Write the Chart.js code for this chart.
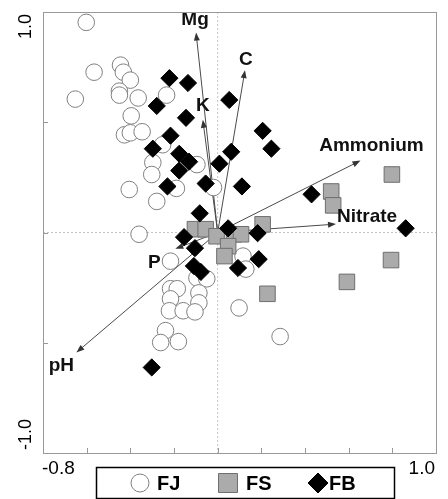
<!DOCTYPE html>
<html>
<head>
<meta charset="utf-8">
<script src="https://cdn.jsdelivr.net/npm/chart.js@4.4.1/dist/chart.umd.min.js"></script>
<style>
  html, body { margin: 0; padding: 0; background: #fff; }
  #wrap { position: relative; width: 448px; height: 499px; }
</style>
</head>
<body>
<div id="wrap"><canvas id="chart"></canvas></div>
<script>
// --- site scores (axis 1 / axis 2) ---
const fjX = [-0.602, -0.566, -0.445, -0.432, -0.400, -0.652, -0.450, -0.450, -0.364, -0.234,
  -0.396, -0.427, -0.400, -0.346, -0.252, -0.297, -0.302, -0.095, -0.189, -0.405,
  -0.279, -0.019, -0.360, -0.216, 0.116, 0.129, -0.095, -0.050, -0.216, -0.185,
  -0.216, -0.086, -0.086, -0.221, -0.158, -0.104, -0.239, -0.261, -0.180, 0.098, 0.286];
const fjY = [0.953, 0.727, 0.759, 0.727, 0.691, 0.605, 0.641, 0.623, 0.610, 0.623,
  0.529, 0.443, 0.452, 0.457, 0.398, 0.317, 0.263, 0.308, 0.200, 0.195,
  0.141, 0.204, -0.008, -0.130, -0.107, -0.166, -0.206, -0.210, -0.255, -0.255,
  -0.301, -0.274, -0.319, -0.355, -0.355, -0.360, -0.445, -0.499, -0.495, -0.342, -0.472];

const fsX = [-0.104, -0.055, -0.005, 0.075, 0.107, 0.048, 0.031, 0.206, 0.520, 0.529, 0.798, 0.794, 0.592, 0.228];
const fsY = [0.015, 0.015, -0.017, -0.008, -0.008, -0.062, -0.107, 0.037, 0.186, 0.123, 0.263, -0.125, -0.224, -0.278];

const fbX = [-0.221, -0.136, -0.279, -0.145, 0.053, -0.216, -0.297, -0.176, -0.131, -0.176,
  -0.230, -0.055, 0.008, 0.062, 0.111, 0.206, 0.246, 0.430, -0.082, -0.154,
  -0.104, 0.048, 0.183, 0.188, 0.093, -0.109, -0.077, 0.861, -0.302];
const fbY = [0.700, 0.678, 0.574, 0.520, 0.601, 0.439, 0.380, 0.357, 0.321, 0.281,
  0.209, 0.222, 0.312, 0.366, 0.209, 0.461, 0.380, 0.173, 0.087, -0.021,
  -0.071, 0.019, -0.003, -0.121, -0.161, -0.152, -0.179, 0.019, -0.612];

// --- environmental vectors ---
const vecNames = ['Mg', 'K', 'C', 'Ammonium', 'Nitrate', 'pH', 'P'];
const vecX = [-0.099, -0.068, 0.125, 0.654, 0.542, -0.647, -0.194];
const vecY = [0.907, 0.511, 0.736, 0.326, 0.038, -0.544, -0.074];

// --- axes ---
const xTicks = [-0.8, -0.6, -0.4, -0.2, 0, 0.2, 0.4, 0.6, 0.8, 1.0];
const yTicks = [-1.0, -0.5, 0, 0.5, 1.0];
const xTickLabels = ['-0.8', '1.0'];
const yTickLabels = ['-1.0', '1.0'];
const groupNames = ['FJ', 'FS', 'FB'];

const pts = (xs, ys) => xs.map((v, i) => ({ x: v, y: ys[i] }));

// label offsets from the arrow tip, px
const labelOffset = {
  Mg: [-1, -13], K: [0, -14], C: [1, -10], Ammonium: [11, -15],
  Nitrate: [31, -7], pH: [-15, 13], P: [-21, 14],
};

const biplot = {
  id: 'biplot',
  beforeDatasetsDraw(chart) {
    const { ctx, chartArea: a, scales: { x, y } } = chart;
    const x0 = x.getPixelForValue(0), y0 = y.getPixelForValue(0);
    ctx.save();
    // dotted zero lines
    ctx.strokeStyle = '#c4c4c4';
    ctx.lineWidth = 1;
    ctx.setLineDash([2, 2]);
    ctx.beginPath();
    ctx.moveTo(x0, a.top); ctx.lineTo(x0, a.bottom);
    ctx.moveTo(a.left, y0); ctx.lineTo(a.right, y0);
    ctx.stroke();
    ctx.setLineDash([]);
    // arrows
    ctx.strokeStyle = '#4a4a4a';
    ctx.fillStyle = '#333';
    vecNames.forEach((n, i) => {
      const tx = x.getPixelForValue(vecX[i]), ty = y.getPixelForValue(vecY[i]);
      const ang = Math.atan2(ty - y0, tx - x0);
      ctx.beginPath();
      ctx.moveTo(x0, y0);
      ctx.lineTo(tx - 6 * Math.cos(ang), ty - 6 * Math.sin(ang));
      ctx.stroke();
      ctx.beginPath();
      ctx.moveTo(tx, ty);
      ctx.lineTo(tx - 8 * Math.cos(ang) + 3 * Math.sin(ang), ty - 8 * Math.sin(ang) - 3 * Math.cos(ang));
      ctx.lineTo(tx - 8 * Math.cos(ang) - 3 * Math.sin(ang), ty - 8 * Math.sin(ang) + 3 * Math.cos(ang));
      ctx.closePath();
      ctx.fill();
    });
    ctx.restore();
  },
  afterDatasetsDraw(chart) {
    const { ctx, chartArea: a, scales: { x, y } } = chart;
    ctx.save();
    // vector labels
    ctx.font = 'bold 19px "Liberation Sans", Arial, sans-serif';
    ctx.fillStyle = '#111';
    ctx.textAlign = 'center';
    ctx.textBaseline = 'middle';
    vecNames.forEach((n, i) => {
      const o = labelOffset[n];
      ctx.fillText(n, x.getPixelForValue(vecX[i]) + o[0], y.getPixelForValue(vecY[i]) + o[1]);
    });
    // frame
    ctx.strokeStyle = '#999';
    ctx.lineWidth = 1;
    ctx.strokeRect(Math.round(a.left) + 0.5, Math.round(a.top) + 0.5,
      Math.round(a.right - a.left), Math.round(a.bottom - a.top));
    // inward ticks
    ctx.beginPath();
    xTicks.forEach(v => {
      const px = Math.round(x.getPixelForValue(v)) + 0.5;
      ctx.moveTo(px, a.bottom); ctx.lineTo(px, a.bottom - 5);
    });
    yTicks.forEach(v => {
      const py = Math.round(y.getPixelForValue(v)) + 0.5;
      ctx.moveTo(a.left, py); ctx.lineTo(a.left + 5, py);
    });
    ctx.stroke();
    // tick labels (only the ends)
    ctx.fillStyle = '#000';
    ctx.font = '19px "Liberation Sans", Arial, sans-serif';
    ctx.textBaseline = 'middle';
    ctx.textAlign = 'left';
    ctx.fillText(xTickLabels[0], x.getPixelForValue(xTicks[0]) - 1, a.bottom + 16);
    ctx.textAlign = 'right';
    ctx.fillText(xTickLabels[1], x.getPixelForValue(xTicks[xTicks.length - 1]) - 1, a.bottom + 16);
    ctx.font = '18px "Liberation Sans", Arial, sans-serif';
    ctx.save();
    ctx.translate(a.left - 17, y.getPixelForValue(yTicks[yTicks.length - 1]) + 2);
    ctx.rotate(-Math.PI / 2);
    ctx.textAlign = 'right';
    ctx.fillText(yTickLabels[1], 0, 0);
    ctx.restore();
    ctx.save();
    ctx.translate(a.left - 17, y.getPixelForValue(yTicks[0]) - 3);
    ctx.rotate(-Math.PI / 2);
    ctx.textAlign = 'left';
    ctx.fillText(yTickLabels[0], 0, 0);
    ctx.restore();
    ctx.restore();
  },
  afterDraw(chart) {
    const { ctx } = chart;
    ctx.save();
    ctx.strokeStyle = '#000';
    ctx.lineWidth = 1.5;
    ctx.strokeRect(96.5, 467.5, 298, 31);
    const cy = 483;
    const marks = [
      { cx: 140, tx: 157, r: 9 },
      { cx: 228, tx: 246, r: 13.4 },
      { cx: 318, tx: 329, r: 10 },
    ];
    ctx.font = 'bold 20px "Liberation Sans", Arial, sans-serif';
    ctx.textBaseline = 'middle';
    ctx.textAlign = 'left';
    chart.data.datasets.forEach((ds, i) => {
      const m = marks[i];
      ctx.fillStyle = ds.backgroundColor;
      ctx.strokeStyle = ds.borderColor;
      ctx.lineWidth = ds.borderWidth;
      Chart.helpers.drawPoint(ctx, { pointStyle: ds.pointStyle, radius: m.r, rotation: 0, borderWidth: ds.borderWidth }, m.cx, cy);
      ctx.fillStyle = '#000';
      ctx.fillText(ds.label, m.tx, cy + 1);
    });
    ctx.restore();
  },
};

new Chart(document.getElementById('chart'), {
  type: 'scatter',
  data: {
    datasets: [
      { label: groupNames[0], data: pts(fjX, fjY), pointStyle: 'circle', pointRadius: 8.3,
        backgroundColor: '#fff', borderColor: '#808080', borderWidth: 1, order: 3 },
      { label: groupNames[1], data: pts(fsX, fsY), pointStyle: 'rect', pointRadius: 11,
        backgroundColor: '#ababab', borderColor: '#6e6e6e', borderWidth: 1, order: 2 },
      { label: groupNames[2], data: pts(fbX, fbY), pointStyle: 'rectRot', pointRadius: 8.6,
        backgroundColor: '#000', borderColor: '#000', borderWidth: 1, order: 1 },
    ],
  },
  options: {
    responsive: true,
    maintainAspectRatio: false,
    animation: false,
    layout: { padding: { left: 43, top: 9, right: 4, bottom: 46 } },
    scales: {
      x: { type: 'linear', min: -0.8, max: 1.0, display: false },
      y: { type: 'linear', min: -1.0, max: 1.0, display: false },
    },
    plugins: { legend: { display: false }, tooltip: { enabled: false } },
  },
  plugins: [biplot],
});
</script>
</body>
</html>
